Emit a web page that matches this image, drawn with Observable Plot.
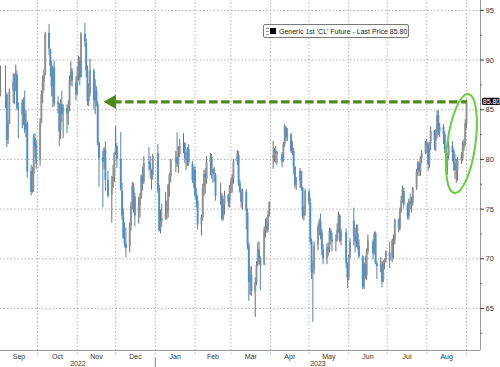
<!DOCTYPE html>
<html>
<head>
<meta charset="utf-8">
<script src="https://cdn.jsdelivr.net/npm/d3@7"></script>
<script src="https://cdn.jsdelivr.net/npm/@observablehq/plot@0.6"></script>
<style>
  html, body { margin: 0; padding: 0; background: #fff; }
  #wrap { position: relative; width: 500px; height: 367px; overflow: hidden; font-family: "Liberation Sans", Arial, sans-serif; }
  #legend { position: absolute; left: 263px; top: 24px; width: 144px; height: 12px; border: 1px solid #7a7a7a; border-radius: 2px; background: #fff;
    font: 7px "Liberation Sans", Arial, sans-serif; color: #222; display: flex; align-items: center; box-sizing: content-box; white-space: nowrap; }
  #legend .ic1 { display: inline-block; width: 3px; height: 5px; margin-left: 2px; border-top: 1px solid #999; border-bottom: 1px solid #999; position: relative; }
  #legend .ic1::after { content: ""; position: absolute; left: 0; right: 0; top: 2px; border-top: 1px solid #999; }
  #legend .ic2 { display: inline-block; width: 6px; height: 6px; background: #000; margin-left: 1px; margin-right: 3px; }
</style>
</head>
<body>
<div id="wrap"><div id="chart"></div><div id="legend"><span class="ic1"></span><span class="ic2"></span><span id="legendText"></span></div></div>
<script>
// ---- Data: Generic 1st 'CL' Future, daily candles ----
const holidays = ["2022-09-05","2022-11-24","2022-12-26","2023-01-02","2023-01-16","2023-02-20","2023-04-07","2023-05-29","2023-06-19","2023-07-04"];
const firstDay = "2022-09-01", lastDay = "2023-09-01";

const opens = [
  89.4,86.7,87.0,86.5,82.0,83.6,86.9,87.6,87.2,88.5,85.2,84.5,85.9,84.6,83.0,83.6,78.8,76.9,78.5,82.1,81.5,
  79.9,83.8,86.6,87.8,88.5,92.7,91.0,89.3,87.3,89.2,85.7,85.5,82.9,85.5,84.7,85.1,84.6,85.4,87.9,88.8,87.7,
  86.7,88.3,89.9,88.3,92.6,91.7,88.9,85.8,86.6,88.9,85.9,86.9,85.5,81.6,80.2,79.9,80.9,77.9,76.4,77.2,78.3,
  80.6,81.3,80.0,76.8,74.2,72.2,71.5,71.2,73.3,75.5,77.2,76.2,74.6,75.3,76.1,78.3,77.7,79.7,79.6,78.8,78.4,
  80.6,77.1,72.9,74.0,74.0,74.6,75.0,77.5,78.3,79.8,80.2,79.4,80.5,81.6,81.6,80.0,80.1,81.0,79.5,77.9,
  78.9,76.5,75.8,73.4,74.1,77.2,78.5,78.0,79.7,80.2,79.0,78.6,78.4,76.4,76.3,74.0,75.4,76.4,75.7,
  77.1,77.6,78.1,79.7,80.4,77.6,76.7,75.6,76.7,74.6,71.3,67.6,68.3,66.6,67.6,69.4,70.9,70.0,69.4,72.8,73.3,72.9,74.5,
  80.1,80.3,80.8,80.5,80.5,79.8,81.5,83.2,82.2,82.5,80.8,80.8,79.2,77.4,77.8,78.8,77.1,74.3,74.8,
  76.7,75.6,71.7,68.7,68.8,71.4,73.1,73.7,72.6,70.9,70.0,71.1,70.9,72.8,71.9,71.7,72.0,72.9,74.3,71.8,72.6,69.5,
  68.1,70.1,73.8,72.2,71.7,72.5,71.3,70.2,67.2,69.4,68.3,70.7,71.7,70.5,72.5,69.5,69.2,69.4,67.8,69.6,69.9,
  70.6,69.8,71.8,71.8,73.9,73.0,74.8,75.8,76.8,75.4,74.2,75.7,75.3,75.6,77.1,78.7,79.6,78.8,80.1,80.6,
  81.7,81.4,79.5,81.6,82.8,81.9,82.9,84.4,82.8,83.2,82.5,80.9,79.4,80.4,81.3,80.8,79.6,78.9,79.0,79.9,80.1,81.2,81.6,
  83.6
];
const highs = [
  89.6,89.4,89.4,86.7,83.9,87.1,88.6,88.6,89.5,88.9,85.7,86.0,86.2,86.9,84.9,83.8,79.4,79.2,82.5,82.6,81.9,
  84.1,86.9,88.4,89.0,92.8,93.6,91.1,89.9,89.4,89.9,86.3,85.6,86.0,86.9,85.5,85.5,85.9,88.4,89.8,89.1,88.3,
  89.3,90.4,90.3,92.8,93.7,92.1,89.4,87.6,90.1,89.1,88.0,87.3,85.8,81.8,80.8,81.2,81.8,78.8,78.3,79.4,80.7,
  83.3,81.6,82.7,77.6,75.0,73.6,73.1,73.6,75.7,77.7,77.6,76.6,76.2,76.6,78.4,79.2,80.3,81.2,80.3,79.0,80.5,
  81.5,77.4,74.9,75.5,76.7,75.8,77.5,78.6,80.0,80.8,82.7,81.3,82.0,82.6,81.7,80.7,81.2,81.5,79.8,79.2,
  79.3,77.1,76.3,74.4,77.5,78.9,79.1,80.3,80.6,80.5,79.1,79.2,78.6,77.6,76.6,76.0,76.8,76.5,77.4,
  78.0,78.5,80.0,80.9,80.8,77.9,77.0,77.0,77.0,75.0,71.6,69.2,69.2,68.1,69.7,71.6,71.7,70.2,73.2,74.0,74.1,74.8,75.7,
  81.8,81.1,81.3,80.8,80.7,81.7,83.5,83.3,83.1,82.6,81.8,81.1,79.3,78.2,79.1,78.8,77.2,75.2,77.0,
  76.9,76.1,72.0,69.8,71.7,73.4,74.0,74.5,72.9,71.4,71.5,71.6,73.1,73.0,72.6,72.4,73.5,74.7,74.5,73.0,73.0,69.6,
  70.3,72.0,75.1,73.1,73.4,73.4,71.9,70.3,69.6,70.2,71.0,72.4,71.9,72.7,72.7,69.7,70.1,69.7,69.8,70.0,70.8,
  71.7,72.0,72.4,74.0,74.0,75.1,76.3,77.3,77.1,75.6,76.0,76.5,76.2,77.2,79.0,79.8,79.7,80.3,80.9,81.8,
  82.0,81.6,81.7,83.3,82.9,83.0,84.9,84.9,83.6,83.5,82.8,81.1,80.6,81.8,81.8,81.0,80.5,80.0,80.2,80.7,81.8,82.0,84.0,
  86.0
];
const lows = [
  86.3,86.3,85.1,81.2,81.5,83.5,85.6,85.5,86.8,84.9,82.1,83.1,83.4,82.6,82.2,78.1,76.3,76.6,76.7,80.2,79.0,
  79.3,83.6,85.6,86.9,88.4,90.5,88.3,86.3,85.2,85.3,84.6,81.3,82.0,83.7,82.1,82.6,83.4,84.8,87.4,87.3,85.9,
  86.4,87.9,87.4,88.2,91.3,88.2,85.4,85.3,86.3,85.0,84.5,85.3,81.4,77.2,75.1,79.0,76.8,76.1,73.6,77.1,77.7,
  80.4,79.1,76.8,73.9,72.0,71.1,70.1,70.6,72.8,74.9,74.6,73.2,73.5,74.1,76.0,76.8,77.5,78.8,78.0,76.9,77.9,
  76.6,72.7,72.5,73.2,73.9,73.9,74.1,76.2,77.7,78.7,79.2,78.6,80.2,80.6,79.6,78.9,79.3,79.3,77.6,77.1,
  76.1,75.1,72.9,72.3,73.8,76.3,76.5,77.5,78.4,78.0,77.6,77.7,75.8,75.4,73.8,73.8,74.4,75.2,75.1,
  76.5,76.6,77.5,79.4,77.3,76.6,75.1,74.9,72.9,70.9,65.7,66.3,66.2,64.1,67.3,69.2,69.4,66.8,69.3,72.1,72.6,72.6,74.2,
  79.0,79.7,79.6,79.4,79.2,79.7,81.2,81.8,81.8,80.6,80.4,78.5,77.1,76.9,77.1,76.8,74.0,73.8,74.3,
  75.4,71.4,67.9,63.6,68.4,70.8,72.3,71.9,70.3,69.4,69.4,70.2,70.6,71.4,70.7,70.7,71.7,72.6,71.6,71.3,69.0,67.0,
  67.8,70.0,71.3,70.6,71.1,70.9,70.0,66.9,66.9,67.9,67.8,70.4,69.9,70.4,69.4,67.9,68.6,67.1,67.6,68.9,69.6,
  69.0,69.6,70.0,71.4,72.6,72.8,74.6,75.6,75.1,73.9,73.9,75.0,74.6,75.3,76.9,78.3,78.3,78.3,79.6,80.5,
  80.6,78.8,79.1,80.9,80.9,80.8,82.1,82.4,82.2,81.5,80.6,79.1,78.4,80.0,79.8,78.8,78.0,77.6,77.8,79.5,79.8,80.8,81.3,
  83.1
];
const closes = [
  86.6,86.9,86.9,81.9,83.5,86.8,87.8,87.3,88.5,85.1,85.1,85.7,84.5,82.9,83.5,78.7,76.7,78.5,82.2,81.2,79.5,
  83.6,86.5,87.8,88.5,92.6,91.1,89.4,87.3,89.1,85.6,85.5,82.8,85.6,84.5,85.1,84.6,85.3,87.9,89.1,87.9,86.5,
  88.4,90.0,88.2,92.6,91.8,88.9,85.8,86.5,89.0,85.9,86.9,85.6,81.6,80.1,79.7,81.0,77.9,76.3,77.2,78.2,80.6,
  81.2,80.0,76.9,74.3,72.0,71.5,71.0,73.2,75.4,77.3,76.1,74.3,75.2,76.1,78.3,77.5,79.6,79.5,79.0,78.4,80.3,
  76.9,72.8,73.7,73.8,74.6,75.1,77.4,78.4,79.9,80.2,79.5,80.3,81.3,81.6,80.1,80.2,81.0,79.7,77.9,78.9,
  76.4,75.9,73.4,74.1,77.1,78.5,78.1,79.7,80.1,79.1,78.6,78.5,76.3,76.4,74.0,75.4,76.3,75.7,77.1,
  77.7,78.2,79.7,80.5,77.6,76.7,75.7,76.7,74.8,71.3,67.6,68.4,66.7,67.6,69.3,70.9,70.0,69.3,72.8,73.2,73.0,74.4,75.7,
  80.4,80.7,80.6,80.7,79.7,81.5,83.3,82.2,82.5,80.8,80.9,79.2,77.4,77.9,78.8,77.1,74.3,74.8,76.8,
  75.7,71.7,68.6,68.6,71.3,73.2,73.7,72.6,70.9,70.0,71.1,70.9,72.8,71.9,71.7,72.0,72.9,74.3,71.8,72.7,69.5,68.1,
  70.1,71.7,72.2,71.7,72.5,71.3,70.2,67.1,69.4,68.3,70.6,71.8,70.5,72.5,69.5,69.2,69.4,67.7,69.6,69.9,70.6,
  69.8,71.8,71.8,73.9,73.0,74.8,75.8,76.9,75.4,74.2,75.8,75.4,75.6,77.1,78.7,79.6,78.8,80.1,80.6,81.8,
  81.4,79.5,81.6,82.8,81.9,82.9,84.4,82.8,83.2,82.5,81.0,79.4,80.4,81.3,80.7,79.6,78.9,79.1,79.8,80.1,81.2,81.6,83.6,
  85.8
];

const monthLabels = ["Sep","Oct","Nov","Dec","Jan","Feb","Mar","Apr","May","Jun","Jul","Aug"];
const yearLabels = ["2022","2023"];
const yTicks = [65, 70, 75, 80, 85, 90, 95];
const yMinorTicks = [62.5, 67.5, 72.5, 77.5, 82.5, 87.5, 92.5];
const lastPrice = 85.80;
const lastPriceLabel = "85.80";
const legendLabel = "Generic 1st 'CL' Future - Last Price 85.80";
const arrowFrom = "2023-09-01", arrowTo = "2022-11-28";   // dashed arrow at the last price level
const circleCenter = "2023-08-28";                        // ellipse around the late-August rally

// ---- Build the table ----
const dates = [];
for (let t = Date.parse(firstDay); t <= Date.parse(lastDay); t += 864e5) {
  const d = new Date(t), wd = d.getUTCDay();
  if (wd === 0 || wd === 6) continue;
  if (holidays.includes(d.toISOString().slice(0, 10))) continue;
  dates.push(d);
}
const data = dates.map((date, i) => ({date, open: opens[i], high: highs[i], low: lows[i], close: closes[i]}));
const up = data.filter(d => d.close >= d.open);
const down = data.filter(d => d.close < d.open);

const utc = (y, m, d, h = 0) => new Date(Date.UTC(y, m, d, h));
const xStart = utc(2022, 8, 2, 2), xEnd = utc(2023, 8, 11, 22);
const yMin = 60.77, yMax = 96.0;
const dayMs = 864e5;
const pxPerDay = 480 / ((xEnd - xStart) / dayMs);
const pxPerUnit = 350 / (yMax - yMin);
const addPx = (date, px) => new Date(+date + px / pxPerDay * dayMs);

const monthStarts = d3.utcMonths(utc(2022, 9, 1), utc(2023, 8, 2));          // Oct 1 ... Sep 1
const bounds = [xStart, ...monthStarts];
const monthPos = monthLabels.map((label, i) => ({label, x: new Date((+bounds[i] + +bounds[i + 1]) / 2)}));
const jan1 = utc(2023, 0, 1);
const yearPos = [
  {label: yearLabels[0], x: new Date((+xStart + +jan1) / 2)},
  {label: yearLabels[1], x: new Date((+jan1 + +xEnd) / 2)}
];

const green = "#4c8a12";
const ellipseSymbol = {
  draw(ctx) {
    const rx = 14, ry = 50, k = 0.5523, th = 8 * Math.PI / 180, c = Math.cos(th), s = Math.sin(th);
    const p = (x, y) => [x * c - y * s, x * s + y * c];
    const m = p(rx, 0); ctx.moveTo(m[0], m[1]);
    const seg = (a, b, e) => { const A = p(...a), B = p(...b), E = p(...e); ctx.bezierCurveTo(A[0], A[1], B[0], B[1], E[0], E[1]); };
    seg([rx, k * ry], [k * rx, ry], [0, ry]);
    seg([-k * rx, ry], [-rx, k * ry], [-rx, 0]);
    seg([-rx, -k * ry], [-k * rx, -ry], [0, -ry]);
    seg([k * rx, -ry], [rx, -k * ry], [rx, 0]);
    ctx.closePath();
  }
};

const font = "Liberation Sans, Arial, sans-serif";
const chart = Plot.plot({
  width: 500, height: 367,
  marginTop: 0, marginRight: 20, marginBottom: 17, marginLeft: 0,
  style: {background: "#fff", fontFamily: font, overflow: "visible"},
  x: {type: "utc", domain: [xStart, xEnd], axis: null},
  y: {domain: [yMin, yMax], axis: null},
  marks: [
    // grid
    Plot.ruleY(yTicks, {stroke: "#b5b5b5", strokeDasharray: "1.5,2", strokeWidth: 1}),
    Plot.ruleX(monthStarts, {y1: yMin - 4 / pxPerUnit, y2: yMax, stroke: "#b5b5b5", strokeDasharray: "1.5,2", strokeWidth: 1}),
    // candles: wicks then bodies
    Plot.ruleX(up, {x: "date", y1: "low", y2: "high", stroke: "#4a4a4a", strokeWidth: 0.8}),
    Plot.ruleX(down, {x: "date", y1: "low", y2: "high", stroke: "#2d659e", strokeWidth: 0.8}),
    Plot.ruleX(up, {x: "date", y1: "open", y2: "close", stroke: "#929292", strokeWidth: 1.9}),
    Plot.ruleX(down, {x: "date", y1: "open", y2: "close", stroke: "#4a90d4", strokeWidth: 1.9}),
    // dashed arrow at last price
    Plot.link([{x1: new Date(Date.parse(arrowTo) + 1 * dayMs), x2: new Date(Date.parse(arrowFrom)), y: lastPrice}],
      {x1: "x1", x2: "x2", y1: "y", y2: "y", stroke: green, strokeWidth: 3.2, strokeDasharray: "8.5,3.5"}),
    Plot.dot([{x: new Date(arrowTo), y: lastPrice}], {x: "x", y: "y", symbol: "triangle", r: 5.3, rotate: -90, fill: green, stroke: "none"}),
    // ellipse highlight
    Plot.dot([{x: new Date(circleCenter), y: 81.6}], {x: "x", y: "y", symbol: ellipseSymbol, fill: "none", stroke: "#63d13d", strokeWidth: 2}),
    // axes lines
    Plot.ruleX([xEnd], {y1: yMin, y2: yMax, stroke: "#9a9a9a", strokeWidth: 1}),
    Plot.ruleY([yMin], {x1: xStart, x2: xEnd, stroke: "#9a9a9a", strokeWidth: 1}),
    // y ticks
    Plot.ruleY(yTicks, {x1: xEnd, x2: addPx(xEnd, 4), stroke: "#444", strokeWidth: 1}),
    Plot.ruleY(yMinorTicks, {x1: xEnd, x2: addPx(xEnd, 2), stroke: "#666", strokeWidth: 1}),
    Plot.text(yTicks, {x: xEnd, y: d => d, text: d => String(d), dx: 5, textAnchor: "start", fontSize: 7.5, fill: "#333"}),
    // last price tag
    Plot.rect([{y: lastPrice}], {x1: addPx(xEnd, 2), x2: addPx(xEnd, 20), y1: d => d.y - 3.6 / pxPerUnit, y2: d => d.y + 3.6 / pxPerUnit, fill: "#111", rx: 1.5}),
    Plot.text([{y: lastPrice}], {x: addPx(xEnd, 11), y: "y", text: () => lastPriceLabel, fill: "#fff", fontSize: 7, textAnchor: "middle"}),
    // x labels
    Plot.text(monthPos, {x: "x", y: yMin, text: "label", dy: 6, fontSize: 7, fill: "#333"}),
    Plot.text(yearPos, {x: "x", y: yMin, text: "label", dy: 13.5, fontSize: 7, fill: "#333"}),
    Plot.ruleX([jan1], {y1: yMin - 7 / pxPerUnit, y2: yMin - 17 / pxPerUnit, stroke: "#888", strokeWidth: 1})
  ]
});
document.getElementById("chart").appendChild(chart);
document.getElementById("legendText").textContent = legendLabel;
</script>
</body>
</html>
